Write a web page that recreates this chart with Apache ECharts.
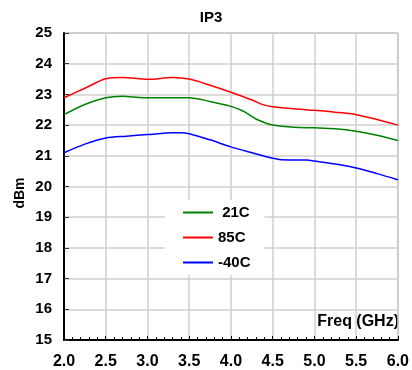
<!DOCTYPE html>
<html><head><meta charset="utf-8">
<script src="https://cdn.jsdelivr.net/npm/echarts@6/dist/echarts.min.js"></script>
<style>html,body{margin:0;padding:0;background:#fff}#c{width:412px;height:370px}</style>
</head><body><div id="c"></div>
<script>
const seriesNames = [' 21C', '85C', '-40C'];
const seriesColors = ['#008000', '#ff0000', '#0000ff'];
const freq21 = [2.0, 2.25, 2.5, 2.7, 2.9, 3.0, 3.5, 3.75, 4.0, 4.15, 4.3, 4.5, 4.75, 5.0, 5.25, 5.5, 5.75, 6.0];
const ip3_21 = [22.34, 22.67, 22.89, 22.94, 22.9, 22.89, 22.89, 22.77, 22.61, 22.45, 22.2, 22.0, 21.93, 21.91, 21.88, 21.8, 21.67, 21.5];
const freq85 = [2.0, 2.25, 2.5, 2.7, 2.85, 3.0, 3.3, 3.5, 3.75, 4.0, 4.25, 4.4, 4.5, 4.75, 5.0, 5.25, 5.5, 5.75, 6.0];
const ip3_85 = [22.89, 23.2, 23.51, 23.55, 23.53, 23.49, 23.55, 23.5, 23.3, 23.07, 22.82, 22.65, 22.6, 22.53, 22.48, 22.42, 22.34, 22.18, 22.0];
const freqM40 = [2.0, 2.25, 2.5, 2.75, 3.0, 3.3, 3.4, 3.5, 3.75, 4.0, 4.25, 4.5, 4.6, 4.9, 5.0, 5.25, 5.5, 5.75, 6.0];
const ip3_M40 = [21.1, 21.38, 21.58, 21.64, 21.69, 21.75, 21.75, 21.72, 21.52, 21.29, 21.1, 20.92, 20.87, 20.86, 20.83, 20.73, 20.6, 20.42, 20.22];

const F = 'Liberation Sans, Arial, sans-serif';
const zip = (xs, ys) => xs.map((x, i) => [x, ys[i]]);
const datasets = [zip(freq21, ip3_21), zip(freq85, ip3_85), zip(freqM40, ip3_M40)];

const chart = echarts.init(document.getElementById('c'), null, {renderer: 'canvas'});
chart.setOption({
  animation: false,
  backgroundColor: '#fff',
  grid: {left: 64, right: 8, top: 33, bottom: 30, show: true, borderColor: '#999', borderWidth: 1, backgroundColor: 'transparent'},
  xAxis: {
    type: 'value', min: 2, max: 6, interval: 0.5,
    axisLine: {show: true, lineStyle: {color: '#000', width: 2}},
    axisTick: {show: true, inside: true, length: 4, lineStyle: {color: '#000', width: 1}},
    minorTick: {show: true, splitNumber: 5, length: 3, lineStyle: {color: '#000', width: 1}},
    splitLine: {show: true, lineStyle: {color: '#cfcfcf', width: 1.5}},
    axisLabel: {color: '#000', fontFamily: F, fontWeight: 'bold', fontSize: 16, margin: 14, formatter: v => v.toFixed(1)}
  },
  yAxis: {
    type: 'value', min: 15, max: 25, interval: 1,
    axisLine: {show: true, lineStyle: {color: '#000', width: 2}},
    axisTick: {show: true, inside: true, length: 5, lineStyle: {color: '#333', width: 1}},
    splitLine: {show: true, lineStyle: {color: '#cfcfcf', width: 1.5}},
    axisLabel: {color: '#000', fontFamily: F, fontWeight: 'bold', fontSize: 15, margin: 12}
  },
  legend: {
    orient: 'vertical', left: 165, top: 200,
    padding: [5, 14, 5, 18],
    backgroundColor: '#fff',
    itemWidth: 30, itemHeight: 2, itemGap: 10,
    icon: 'rect',
    textStyle: {color: '#000', fontFamily: F, fontWeight: 'bold', fontSize: 15, lineHeight: 15},
    data: seriesNames
  },
  series: datasets.map((d, i) => ({
    name: seriesNames[i], type: 'line', data: d, showSymbol: false, smooth: 0.3,
    lineStyle: {color: seriesColors[i], width: 1.5}, itemStyle: {color: seriesColors[i]}
  })),
  graphic: [
    {type: 'text', x: 211, y: 18, style: {text: 'IP3', font: 'bold 15px ' + F, fill: '#000', textAlign: 'center', textVerticalAlign: 'middle'}},
    {type: 'text', x: 20, y: 193, rotation: Math.PI / 2, style: {text: 'dBm', font: 'bold 14px ' + F, fill: '#000', textAlign: 'center', textVerticalAlign: 'middle'}},
    {type: 'text', x: 399, y: 322, style: {text: 'Freq (GHz)', font: 'bold 16px ' + F, fill: '#000', textAlign: 'right', textVerticalAlign: 'middle'}}
  ]
});
</script></body></html>
